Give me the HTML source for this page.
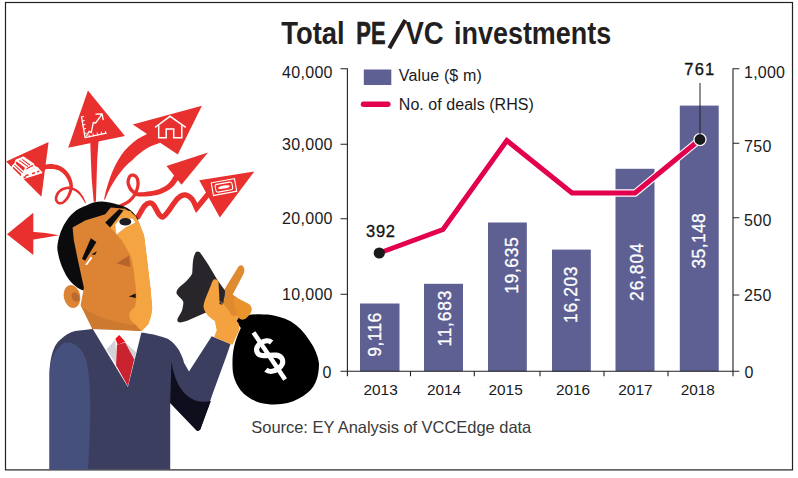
<!DOCTYPE html>
<html>
<head>
<meta charset="utf-8">
<title>Total PE/VC investments</title>
<style>
html,body{margin:0;padding:0;background:#fff;}
body{width:798px;height:478px;overflow:hidden;font-family:"Liberation Sans",sans-serif;}
svg{display:block;}
text{font-family:"Liberation Sans",sans-serif;}
.ax{font-size:16px;fill:#1a1a1a;}
.yr{font-size:15.4px;fill:#1a1a1a;}
.bl{font-size:17.5px;fill:#fff;stroke:#fff;stroke-width:0.3px;}
.dl{font-size:16.5px;fill:#111;stroke:#111;stroke-width:0.3px;}
</style>
</head>
<body>
<svg width="798" height="478" viewBox="0 0 798 478">
<rect x="0" y="0" width="798" height="478" fill="#fff"/>
<!-- frame -->
<rect x="5.5" y="2.5" width="787" height="467.4" fill="none" stroke="#222" stroke-width="1.2"/>

<!-- ILLUSTRATION -->
<g id="illus">
<!-- red arrows -->
<g fill="#e8302f" stroke="none">
<polygon points="87.9,90.4 68.2,147.8 124.9,136"/>
<path d="M90.3,142 L98.6,140 L97.2,160 L96.6,179 L95.9,201.8 L93.7,201.8 L91.7,179 L90.9,160Z"/>
<polygon points="6.1,161.5 48.6,142.1 41.4,196.8"/>
<path d="M44.2,169.5 L46.3,169.3 L48.2,169.0 L50.1,168.9 L51.8,168.9 L53.7,169.1 L55.6,169.4 L57.3,169.9 L59.0,170.5 L60.5,171.4 L62.1,172.6 L63.5,173.9 L64.8,175.3 L66.0,176.9 L67.1,178.8 L68.0,180.7 L68.7,182.6 L69.2,184.1 L69.4,185.6 L69.5,187.1 L69.4,188.7 L69.1,190.6 L68.4,192.6 L67.7,194.5 L66.8,196.3 L65.8,197.8 L64.6,199.3 L63.4,200.5 L62.3,201.4 L61.4,201.9 L60.5,202.0 L59.7,202.0 L59.1,201.8 L58.5,201.4 L57.9,200.7 L57.5,199.8 L57.3,198.9 L57.4,197.8 L57.8,196.4 L58.4,195.0 L59.1,193.7 L59.9,192.7 L61.0,191.7 L62.2,190.9 L63.5,190.2 L65.0,189.7 L66.6,189.3 L68.2,189.2 L69.8,189.3 L71.4,189.6 L73.1,190.2 L74.8,191.0 L76.3,192.0 L77.6,193.0 L78.9,194.3 L80.1,195.6 L81.2,197.1 L82.2,198.5 L83.2,200.0 L84.2,201.6 L85.1,203.2 L85.9,202.8 L85.2,201.1 L84.5,199.4 L83.7,197.6 L82.8,195.9 L81.7,194.4 L80.5,192.8 L79.2,191.3 L77.7,190.0 L76.0,188.9 L74.1,187.9 L72.2,187.2 L70.2,186.7 L68.2,186.6 L66.2,186.8 L64.3,187.2 L62.5,187.8 L60.9,188.6 L59.4,189.7 L58.0,190.9 L56.9,192.3 L56.0,193.8 L55.3,195.6 L54.8,197.4 L54.7,199.1 L55.0,200.7 L55.8,202.1 L56.7,203.3 L57.9,204.2 L59.3,204.6 L60.7,204.6 L62.2,204.3 L63.7,203.6 L65.1,202.5 L66.6,201.1 L68.0,199.5 L69.2,197.7 L70.3,195.8 L71.2,193.6 L72.0,191.4 L72.6,189.3 L72.9,187.3 L72.9,185.4 L72.7,183.4 L72.3,181.4 L71.6,179.3 L70.7,177.0 L69.5,174.8 L68.2,172.7 L66.7,170.9 L64.9,169.2 L63.1,167.7 L61.0,166.5 L58.9,165.5 L56.6,164.8 L54.4,164.4 L52.2,164.1 L49.9,164.0 L47.8,164.2 L45.7,164.4 L43.8,164.5Z"/>
<polygon points="33.3,212.8 7,234.3 33.3,255"/>
<path d="M32,231.8 L46,233 L59,235.3 L46,237.6 L32,239.8Z"/>
<polygon points="201.9,105.7 132.8,124.5 177.8,154.6"/>
<path d="M150,131 L147,133.9 C143,136 140,137.5 137.6,138.9 C132,143 128,147 125,150.3 C116,161 108.5,178 104,199.5 L105,199.5 C112,182 122,168 132.5,160 C136,156.5 140,153 143.8,150.3 C148,147.5 153,145 158.9,143.3 L163,141Z"/>
<polygon points="208,152.4 166.5,166 181.5,184.8"/>
<path d="M175.6,173.2 L175.3,173.7 L175.1,174.0 L174.7,174.6 L173.9,175.7 L172.8,177.5 L171.5,179.7 L170.0,181.8 L168.4,183.6 L166.4,185.2 L164.0,186.7 L161.5,188.1 L158.9,189.2 L156.2,190.1 L153.2,190.7 L150.2,191.2 L147.4,191.6 L144.9,191.9 L142.6,192.2 L140.5,192.3 L138.8,192.2 L137.7,192.1 L136.9,191.8 L136.1,191.4 L135.2,190.9 L134.2,190.2 L133.3,189.4 L132.5,188.6 L131.8,187.7 L131.1,186.5 L130.5,185.1 L130.0,183.8 L129.7,182.5 L129.8,181.2 L130.1,179.7 L130.5,178.4 L131.0,177.5 L131.4,177.1 L131.9,176.8 L132.5,176.7 L133.0,176.7 L133.6,176.9 L134.4,177.4 L135.1,178.0 L135.6,178.8 L136.0,180.0 L136.3,181.7 L136.4,183.5 L136.3,185.4 L135.9,187.4 L135.2,189.6 L134.3,191.9 L133.4,193.8 L132.3,195.4 L131.1,196.9 L129.9,198.2 L128.5,199.4 L127.2,200.5 L125.7,201.4 L124.2,202.2 L122.8,202.9 L121.7,203.6 L120.6,204.1 L119.5,204.6 L118.4,205.1 L119.6,207.9 L120.7,207.4 L121.8,207.0 L123.1,206.5 L124.4,205.9 L125.8,205.1 L127.4,204.2 L129.1,203.2 L130.7,202.0 L132.2,200.6 L133.6,199.1 L135.0,197.3 L136.2,195.4 L137.3,193.2 L138.3,190.7 L139.0,188.2 L139.5,185.8 L139.7,183.5 L139.6,181.3 L139.2,179.2 L138.6,177.4 L137.6,175.9 L136.4,174.7 L135.0,173.9 L133.6,173.5 L132.2,173.4 L130.7,173.7 L129.4,174.5 L128.2,175.7 L127.5,177.2 L126.9,178.9 L126.5,180.8 L126.5,182.7 L126.7,184.6 L127.3,186.3 L128.0,188.0 L128.8,189.5 L129.7,190.9 L130.8,192.1 L131.9,193.1 L133.0,193.9 L134.0,194.7 L135.2,195.4 L136.6,196.0 L138.4,196.4 L140.5,196.6 L142.8,196.6 L145.3,196.4 L148.0,196.2 L150.8,195.9 L154.0,195.5 L157.3,194.9 L160.5,194.0 L163.6,192.7 L166.6,191.2 L169.4,189.5 L172.0,187.6 L174.3,185.3 L176.1,182.8 L177.6,180.5 L178.7,178.9 L179.4,178.0 L179.8,177.5 L180.1,177.2 L180.4,176.8Z"/>
<polygon points="254.3,171.6 199.2,180.3 219.8,217.5"/>
</g>
<path d="M209,193 L196.6,208.2  C195.1,205.2 194.0,201.4 192.1,199.2 C190.2,197.0 187.7,195.0 185.3,194.9 C182.9,194.8 180.8,195.4 177.8,198.4 C174.8,201.4 169.7,209.6 167.2,212.7 C164.7,215.8 164.1,216.9 162.7,217.2 C161.3,217.4 160.4,216.2 158.9,214.2 C157.4,212.2 155.2,207.1 153.7,205.2 C152.2,203.3 151.4,202.8 149.9,202.9 C148.4,203.0 146.5,203.8 144.6,205.9 C142.7,208.0 139.9,213.7 138.6,215.7 C137.3,217.7 137.5,217.2 137.0,218.0" fill="none" stroke="#e8302f" stroke-width="5.3" stroke-linejoin="miter" stroke-linecap="butt"/>
<!-- icons -->
<g fill="none" stroke="#fff" stroke-width="1.3" stroke-linecap="round" stroke-linejoin="round">
<path d="M81.5,116.9 L85.1,137.7 L106.2,133.2"/>
<path d="M86.5,136 L89.2,131.2 L91.3,132.6 L93.3,122.4 L95.6,123 L102.1,114.2 M96,114.2 L102.1,113.8 L103.2,119.6"/>
<path d="M81.5,116.9l2.2,-0.5M82.3,121l2,-0.4M83,125l2,-0.4M83.7,129l2,-0.4M84.4,133.5l2,-0.4M89.5,136.8l-0.4,-2M93.5,135.9l-0.4,-2M97.6,135l-0.4,-2M101.7,134.1l-0.4,-2M105.8,133.3l-0.4,-2" stroke-width="1"/>
</g>
<g fill="none" stroke="#fff" stroke-width="1.5" stroke-linejoin="miter" stroke-linecap="square">
<path d="M155.6,127 L170,116.3 L185.2,127"/>
<path d="M158.7,125.5 V137.7 H166.2 V129.1 H173.7 V137.7 H181.8 V125.5"/>
</g>
<g transform="translate(223.95 187.1) rotate(-10.2)" fill="none" stroke="#fff" stroke-width="1.1">
<rect x="-11.8" y="-6.4" width="23.6" height="12.8"/>
<rect x="-8.5" y="-3.9" width="17" height="7.8" rx="2"/>
<ellipse cx="0" cy="0" rx="6" ry="1.5" fill="#fff" stroke="none"/>
</g>
<g stroke="#fff" stroke-width="1.4" fill="none" stroke-linejoin="round" stroke-linecap="round">
<path d="M22.2,174.1 L37.7,168.1 L41.8,172.6 L20.5,179.4Z" fill="#fff"/>
<path d="M24.5,171.5 L34.5,166.5 L37.7,168.1 L22.2,174.1Z" fill="#fbd9d6"/>
<path d="M16.2,160.2 L23.3,157.2 L33.1,163.9 L26,167.7Z" fill="#fff"/>
<path d="M16.2,160.2 L15,163.9 L23.7,172 L26,167.7"/>
<path d="M33.1,163.9 L34.5,166.5 L24.5,171.5"/>
<path d="M13.2,165.4 L10.5,170 L20.5,179.4 L22.2,174.1Z"/>
<path d="M13.2,165.4 L15,163.9"/>
<path d="M19.6,160.6 L27.6,166.4 M22.6,159.6 L29.8,165" stroke="#e8302f" stroke-width="1.1"/>
</g>
<g stroke="#e8302f" stroke-width="1.7" fill="none">
<path d="M25.5,175.8 L28.5,174.8 M32,173.7 L35,172.8 M37.2,172 L39.3,171.3 M23.5,177.6 L26,176.8"/>
</g>

<!-- head -->
<path d="M84,290.5 C78.5,289.5 72,284 67.5,277.5 C63.5,271 59.5,262 57.8,252 C57.2,249.5 57.2,247 57.5,245 C59,235 62,227 67.5,219.3 C72.5,212 79,208 86.4,205.5 C91,203 96,201.5 101.4,201.5 C106,201.5 110,202.5 114,203.6 C120,205 126,207 130.3,209.9 C134,213 136,215.5 138.5,219 L120,260 Z" fill="#0b0b0d"/>
<ellipse cx="72" cy="296.5" rx="8.2" ry="11.6" transform="rotate(-12 72 296.5)" fill="#dc8433"/>
<ellipse cx="75.5" cy="297" rx="3.6" ry="5" transform="rotate(-25 75.5 297)" fill="#b96a2e"/>
<path d="M72.6,227.5 L85.1,220.6 L105.2,214.3 L110.8,207.4 L125.3,208.7 L135.3,215.6 L138.1,220.5 L144,235.2 L146.9,258.7 L150.4,288 L152.2,308.5 L148.4,323.7 L141.6,331 L92.7,329.5 L80.6,305.6 L83.9,287.7 L77.6,258.8 L73.8,240Z" fill="#dc8433"/>
<path d="M82,307 L92.7,329.5 L141,331 L136.3,325.2 C125,324 100,320 82,307Z" fill="#cd7a30"/>
<path d="M110.2,227.5 L123.4,210.5 L130.3,211 L138.1,220.5 L144,235.2 L146.9,258.7 L150.4,288 L152.2,308.5 C152,314 150.5,319 148.4,323.7 C146,327 144,329 141.6,330.5 C139,329 137.5,327 136.3,325.2 C133,322.5 131,321 130.3,319.2 C129,316.5 129,314.5 129.5,313.1 C131,310 133,308.5 134.8,307.1 C136,303 136.5,299 136.3,295 C136,289 135.5,284 134.8,280 C134,271 132.5,262 130.3,255 L121.5,240Z" fill="#f4a440"/>
<polygon points="116.5,263.2 129,255.7 130.3,267" fill="#b5632c"/>
<polygon points="128.8,296.5 135.6,293.4 135.8,298" fill="#1a1210"/>
<polygon points="105.2,222.5 119,209.3 123.4,210.5 110.2,227.5" fill="#0b0b0d"/>
<polygon points="115.2,225 120.2,218.7 132.8,218.7 135.3,222.5 125.3,227.5 116.5,234.4" fill="#fff"/>
<ellipse cx="125.3" cy="221.8" rx="6" ry="3.8" fill="#1b1b24"/>
<polygon points="90.8,238.2 96.4,241.9 85.1,260.7 82,258.8" fill="#0b0b0d"/>
<polygon points="85.1,265 91,256.5 92.2,258 87.2,265" fill="#fff"/>
<polygon points="91.4,254.6 97,251.3 95,254.8" fill="#0b0b0d"/>

<!-- body -->
<path d="M49.5,469.5 L49.5,376.5 C49.5,355 55,343 61.4,338.8 C65,335 70,332.5 75,331 L92.8,329 L141.3,332.6 C152,334 160,336 167.7,338.8 C173,342 176,346 179,350.2 C181,354 183,358 184,362.7 L189,371.5 L211.7,336.3 L230.5,343.9 L226.7,355.2 L212.9,392.9 L200.4,429.3 C199,431 197.5,431.2 196.6,430.6 L170.2,403 L170.2,469.5 Z" fill="#3b3e5f"/>
<path d="M49.5,469.5 L49.5,376.5 C49.5,361 53.5,350 64.5,342.6 C74,341.4 81.8,346.7 86.5,360.8 C91.2,383 91.2,414 88,469.5 Z" fill="#46507c"/>
<path d="M171.5,361.5 C173,372 176,381 180.3,387.8 C184,394 189,398 195.3,400.4 C200,402 206,402 210.9,401 L200.4,429.3 C199,431 197.5,431.2 196.6,430.6 L170.2,403 Z" fill="#0e0e1c"/>
<!-- collar / shirt / tie -->
<polygon points="92.8,329 141.7,331.3 127.9,387" fill="#fff"/>
<polygon points="106.4,349.4 115.4,339.6 116.9,365.2" fill="#d3d3d8"/>
<polygon points="125.2,342.6 136.5,352.4 134.2,359.2" fill="#d3d3d8"/>
<polygon points="116.9,344.8 125.2,342.6 134.2,359.2 127.9,386.3 116.1,365.2" fill="#cb2230"/>
<polygon points="115.4,338.8 119.2,335.1 125.2,341.8 117.7,344.8" fill="#e9141f"/>

<!-- bag top -->
<path d="M197.5,251.5 C199.5,251.5 200.5,253 201.1,253.9 L208.2,264.5 L216.2,277.9 L225.1,291.2 L224,305 L203.7,313.4 L187.8,320.5 C184,321.8 181,322.8 178.9,322.3 C177,321.5 177,319.5 178,317.8 C180,314 182,311.5 182.4,308.9 C183,306 183.5,303.5 183.3,301.8 C182,299 179.5,297.5 178,295.6 C176.5,294 176.2,292.5 176.7,291.2 C177.5,289 178.5,288 179.8,286.7 C183,284 186,282 187.8,279.6 C190,277 191.5,275 192.2,273.4 C192.5,270 192.5,267 192.7,264.5 C193,260 193.5,257 194.9,253.9 C195.5,252.3 196.5,251.5 197.5,251.5Z" fill="#29262b"/>
<!-- bag body -->
<path d="M247.6,315.3 C255,313.8 262,314 267.9,314.6 C276,315.8 283.5,317.8 290.5,321.3 C298,325.8 304.5,332.5 309.8,341 C315,348.5 318,356 319,363.4 C319,370 318,377 315.5,382.4 C313,388 309,392 303.3,396 C297,400 290,403 281.5,404.1 C274,405 267,404.5 259.8,402.8 C252,400 245,396 240.8,390.5 C236,384 233,377 232.6,368.8 C232.3,361 232.5,354 234,347.1 C235.5,340 238,334 240.8,328 L234,318Z" fill="#000"/>
<!-- hand -->
<path d="M213.8,279.5 C216,279 217.8,280 218.5,281.4 C219.5,285 220.2,289 220.4,292.7 L219.5,304 L223.2,304.9 C225.5,307 227.5,309 228.9,311.5 L231.7,317.1 C234,319 236.5,321 238.3,322.8 C239.3,325 239.6,328 239.3,330.3 L235.5,337.9 L232.5,344.7 L214,337.2 L216.7,330.3 L214.8,320.9 C211,318.5 208,316 206.3,313.4 C204.5,311 203.5,308.5 203.5,305.8 C204,302.5 205,299.5 206.3,296.4 L211,285.1 C211.8,282.5 212.5,280.5 213.8,279.5Z" fill="#f3a23f"/>
<path d="M219.5,300 L230,296 L240,316 L236,322 L228,314Z" fill="#f3a23f"/>
<path d="M238.7,266.3 C240,265.2 241.2,265 242.1,265.4 C243.5,266.3 244.2,267.8 244.3,269.1 C244.4,270.8 244.2,272.3 243.6,273.8 L232.7,294.5 L239.3,299.3 L248.7,304 C250.5,305.3 251.5,307 251.5,308.7 C251.5,311 250.8,312.8 249.6,314.3 C248,316.5 246.5,318 244.9,319 C243,319.6 241.5,319.6 240.2,319 C239,318 238,316.7 237.4,315.3 C235.5,316 233.5,316 231.7,315.3 C230.3,314 229.5,312.3 228.9,310.6 L223.2,303 L225.1,296 L224.2,289.8Z" fill="#df8a2f"/>
<path d="M234,297 L239.3,299.3 L248.7,304 C250.5,305.3 251.5,307 251.5,308.7 C251.5,311 250.8,312.8 249.6,314.3 C248,316.5 246.5,318 244.9,319 C243,319.6 241.5,319.6 240.2,319 C239,318 238,316.7 237.4,315.3 L234.5,306Z" fill="#e9932f"/>
<path d="M218.5,282.3 L225.1,290.8 L223.2,304 L219.5,300.2Z" fill="#29262b"/>
<!-- dollar -->
<g transform="translate(269.3 356) rotate(-33.9)" fill="none" stroke="#fff">
<path d="M9.5,-10 C7.5,-17 -7,-18 -8,-9.5 C-9,-1 9.5,-0.5 9,9 C8.5,18 -8,17.5 -10.5,9.5" stroke-width="5.2"/>
<path d="M0,-28.3 L0,28.3" stroke-width="4.6"/>
</g>
</g>

<!-- CHART -->
<g id="chart">
<g font-size="31" font-weight="bold" fill="#231f20">
<text x="281.3" y="43.8" textLength="63.4" lengthAdjust="spacingAndGlyphs">Total</text>
<text x="356.3" y="43.8" textLength="29.2" lengthAdjust="spacingAndGlyphs" stroke="#231f20" stroke-width="0.7">PE</text>
<path d="M389.3 48.2L405.3 20" stroke="#231f20" stroke-width="4.2" fill="none"/>
<text x="405.5" y="43.8" textLength="38.2" lengthAdjust="spacingAndGlyphs">VC</text>
<text x="454" y="43.8" textLength="157.2" lengthAdjust="spacingAndGlyphs">investments</text>
</g>

<!-- bars -->
<g fill="#5e5f92">
<rect x="360" y="303.5" width="39.5" height="68"/>
<rect x="424" y="283.8" width="39" height="87.5"/>
<rect x="488" y="222.5" width="38.8" height="149"/>
<rect x="552" y="249.6" width="38.8" height="122"/>
<rect x="615.5" y="168.8" width="39" height="202.5"/>
<rect x="679.8" y="105.6" width="38.9" height="265.8"/>
</g>

<!-- axes -->
<g stroke="#222" stroke-width="1.1" fill="none">
<path d="M340.5 68.7H347.4V376.3"/>
<path d="M340.5 144.2H347.4M340.5 218.8H347.4M340.5 294.3H347.4"/>
<path d="M340.5 371.3H739.3"/>
<path d="M410.5 371.3V376.3M474.3 371.3V376.3M540 371.3V376.3M604 371.3V376.3M668 371.3V376.3"/>
<path d="M739.3 68.7H733V376.3"/>
<path d="M733 143.3H739.3M733 217.8H739.3M733 295H739.3"/>
</g>

<!-- left labels -->
<g class="ax" text-anchor="end">
<text x="332.5" y="77.5" textLength="50.5" lengthAdjust="spacing">40,000</text>
<text x="332.5" y="149.5" textLength="50.5" lengthAdjust="spacing">30,000</text>
<text x="332.5" y="224" textLength="50.5" lengthAdjust="spacing">20,000</text>
<text x="332.5" y="299.5" textLength="50.5" lengthAdjust="spacing">10,000</text>
<text x="331.5" y="377.5">0</text>
</g>
<!-- right labels -->
<g class="ax">
<text x="744" y="77.5" textLength="41" lengthAdjust="spacing">1,000</text>
<text x="744" y="152.2" textLength="27.5" lengthAdjust="spacing">750</text>
<text x="744" y="225.5" textLength="27.5" lengthAdjust="spacing">500</text>
<text x="744" y="301" textLength="27.5" lengthAdjust="spacing">250</text>
<text x="744.5" y="377.5">0</text>
</g>
<!-- year labels -->
<g class="yr" text-anchor="middle">
<text x="380.6" y="394.5">2013</text>
<text x="444" y="394.5">2014</text>
<text x="505.6" y="394.5">2015</text>
<text x="573" y="394.5">2016</text>
<text x="635.4" y="394.5">2017</text>
<text x="697.8" y="394.5">2018</text>
</g>

<!-- legend -->
<rect x="363.8" y="69.5" width="27.5" height="15.5" fill="#5e5f92"/>
<text class="ax" x="398.8" y="80.8" textLength="83" lengthAdjust="spacing">Value ($ m)</text>
<path d="M363.5 104.3H387.8" stroke="#e2004f" stroke-width="5.5" stroke-linecap="round" fill="none"/>
<text class="ax" x="398.8" y="110" textLength="135" lengthAdjust="spacing">No. of deals (RHS)</text>

<!-- line -->
<path d="M379.3 253L443 229.5L506.8 140.5L572 193L635 193L700 139.5" stroke="#fff" stroke-width="7.4" fill="none" stroke-linejoin="miter"/>
<path d="M379.3 253L443 229.5L506.8 140.5L572 193L635 193L700 139.5" stroke="#e2004f" stroke-width="5" fill="none" stroke-linejoin="miter"/>
<circle cx="379.3" cy="253" r="5.6" fill="#1a1a1a"/>
<circle cx="700" cy="139.5" r="6" fill="#1a1a1a" stroke="#fff" stroke-width="1.2"/>
<path d="M700 83V134" stroke="#222" stroke-width="1"/>

<!-- data labels -->
<text class="dl" x="366" y="236.6" textLength="29" lengthAdjust="spacing">392</text>
<text class="dl" x="684.3" y="75" textLength="30" lengthAdjust="spacing">761</text>

<!-- bar labels -->
<g class="bl">
<text transform="translate(380.8 356.7) rotate(-90)" textLength="44" lengthAdjust="spacing">9,116</text>
<text transform="translate(450.8 346.5) rotate(-90)" textLength="55.9" lengthAdjust="spacing">11,683</text>
<text transform="translate(517.7 293.7) rotate(-90)" textLength="56.4" lengthAdjust="spacing">19,635</text>
<text transform="translate(576.6 322.9) rotate(-90)" textLength="56.5" lengthAdjust="spacing">16,203</text>
<text transform="translate(642.6 300.9) rotate(-90)" textLength="57.6" lengthAdjust="spacing">26,804</text>
<text transform="translate(704.6 268.5) rotate(-90)" textLength="55.3" lengthAdjust="spacing">35,148</text>
</g>

<!-- source -->
<text x="251.3" y="433" font-size="16.5" fill="#3a3a3a" textLength="280" lengthAdjust="spacing">Source: EY Analysis of VCCEdge data</text>
</g>
</svg>
</body>
</html>
